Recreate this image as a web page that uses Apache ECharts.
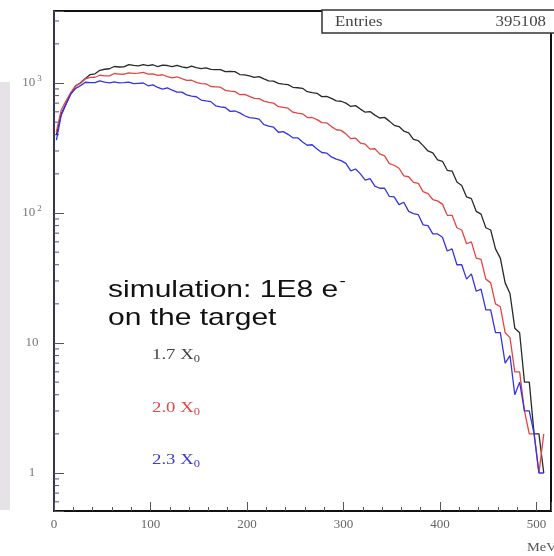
<!DOCTYPE html>
<html>
<head>
<meta charset="utf-8">
<script src="https://cdn.jsdelivr.net/npm/echarts@6/dist/echarts.min.js"></script>
<style>
html, body { margin: 0; padding: 0; background: #fff; }
#main { width: 554px; height: 556px; }
</style>
</head>
<body>
<div id="main"></div>
<script>
// bin lower edges (MeV), 5 MeV wide
var binWidth = 5;
var binEdges = [0,5,10,15,20,25,30,35,40,45,50,55,60,65,70,75,80,85,90,95,
  100,105,110,115,120,125,130,135,140,145,150,155,160,165,170,175,180,185,190,195,
  200,205,210,215,220,225,230,235,240,245,250,255,260,265,270,275,280,285,290,295,
  300,305,310,315,320,325,330,335,340,345,350,355,360,365,370,375,380,385,390,395,
  400,405,410,415,420,425,430,435,440,445,450,455,460,465,470,475,480,485,490,495,
  500,505];

// 1.7 X0
var counts17 = [400,579,693,834,949,1005,1085,1162,1176,1252,1276,1287,1340,1328,1330,1385,1364,1354,1384,1363,
  1382,1338,1375,1363,1337,1365,1331,1310,1346,1312,1289,1305,1274,1266,1269,1224,1226,1224,1162,1154,
  1134,1103,1120,1075,1040,1035,995,980,972,927,919,910,857,844,833,786,788,762,729,724,
  700,660,670,630,596,603,566,538,544,509,473,462,427,414,369,360,330,300,290,256,
  250,213,210,173,163,133,129,103,98,77,74,53,45,29,24,13,12,5,5,2,
  2,1];
// 2.0 X0
var counts20 = [422,622,729,846,954,995,1076,1103,1107,1147,1134,1133,1183,1170,1168,1198,1184,1192,1208,1170,
  1176,1144,1157,1119,1093,1117,1080,1049,1050,1010,990,985,940,935,928,877,866,858,813,818,
  790,761,759,726,710,700,657,649,640,596,586,579,542,543,523,496,494,462,437,432,
  406,373,376,345,338,310,312,285,275,240,233,221,193,190,172,169,146,141,127,124,
  117,96,96,77,74,58,60,45,44,31,29,20,19,12,11,6,6,3,2,2,
  1,2];
// 2.3 X0
var counts23 = [363,566,686,823,910,955,1013,1007,1005,1040,1016,1002,1020,1003,1005,1017,988,995,1000,952,
  967,924,896,917,880,850,850,810,792,784,739,728,719,668,656,648,605,609,589,560,
  541,536,528,478,466,457,418,423,403,379,379,352,332,335,311,292,289,270,260,253,
  241,211,218,200,179,184,161,155,155,134,133,116,121,103,99,97,81,80,69,69,
  65,51,53,40,40,31,34,25,26,18,18,12,12,7,8,4,5,3,3,2,
  1,1];

var seriesNames = ['1.7 X0', '2.0 X0', '2.3 X0'];
var xTicks = [0, 100, 200, 300, 400, 500];
var yTicks = [1, 10, 100, 1000];
var yTickLabels = ['1', '10', '{b|10}{s|2}', '{b|10}{s|3}'];
var yMinorTicks = [0.6,0.7,0.8,0.9,2,3,4,5,6,7,8,9,20,30,40,50,60,70,80,90,
  200,300,400,500,600,700,800,900,2000,3000];
var entries = 395108;

// points at bin centres
function hist(counts) {
  return binEdges.map(function (x, i) { return [x + binWidth / 2, counts[i]]; });
}

var chart = echarts.init(document.getElementById('main'), null, { renderer: 'canvas' });

var serif = '"Liberation Serif", "DejaVu Serif", serif';
var sans = '"Liberation Sans", Arial, sans-serif';
var colors = ['#2a2a2a', '#e64444', '#3434e6'];
var stretch = 1.25; // picture is a bit wider than tall

function histSeries(name, counts, color) {
  return {
    name: name,
    type: 'line',
    symbol: 'none',
    data: hist(counts),
    lineStyle: { color: color, width: 1.3 },
    animation: false,
    clip: true
  };
}

function label(y, txt, color) {
  return {
    type: 'text', x: 152, y: y, scaleX: stretch,
    style: {
      text: '{a|' + txt + '}{b|0}', textVerticalAlign: 'middle',
      rich: {
        a: { fontFamily: serif, fontSize: 15, fill: color },
        b: { fontFamily: serif, fontSize: 10, fill: color, padding: [9, 0, 0, 0] }
      }
    }
  };
}

var option = {
  animation: false,
  grid: {
    left: 54, right: 2, top: 11, bottom: 45,
    show: true, borderColor: '#111', borderWidth: 2
  },
  xAxis: {
    type: 'value',
    min: 0, max: 515,
    interval: 100,
    axisLine: { show: true, lineStyle: { color: '#111', width: 2 } },
    axisTick: { show: true, inside: true, length: 9, lineStyle: { color: '#555' } },
    minorTick: { show: true, splitNumber: 5, length: 4, lineStyle: { color: '#555' } },
    splitLine: { show: false },
    axisLabel: {
      margin: 7,
      color: '#666',
      fontFamily: serif,
      fontSize: 13,
      formatter: function (v) { return xTicks.indexOf(v) >= 0 ? String(v) : ''; }
    }
  },
  yAxis: {
    type: 'log',
    logBase: 10,
    min: 0.51, max: 3580,
    axisLine: { show: true, lineStyle: { color: '#35355c', width: 2 } },
    axisTick: { show: true, inside: true, length: 10, lineStyle: { color: '#555' } },
    splitLine: { show: false },
    axisLabel: {
      margin: 22,
      align: 'center',
      color: '#777',
      fontFamily: serif,
      fontSize: 13,
      formatter: function (v) {
        for (var i = 0; i < yTicks.length; i++) {
          if (Math.abs(v - yTicks[i]) < yTicks[i] * 1e-6) return yTickLabels[i];
        }
        return '';
      },
      rich: {
        b: { fontFamily: serif, fontSize: 13, color: '#777' },
        s: { fontFamily: serif, fontSize: 9, color: '#777', padding: [0, 0, 9, 2] }
      }
    }
  },
  series: [
    histSeries(seriesNames[0], counts17, colors[0]),
    histSeries(seriesNames[1], counts20, colors[1]),
    histSeries(seriesNames[2], counts23, colors[2]),
    {
      type: 'custom',
      silent: true,
      animation: false,
      data: yMinorTicks.map(function (v) { return [0, v]; }),
      renderItem: function (params, api) {
        var p = api.coord([0, api.value(1)]);
        return {
          type: 'line',
          shape: { x1: p[0], y1: p[1], x2: p[0] + 5, y2: p[1] },
          style: { stroke: '#555', lineWidth: 1 }
        };
      }
    }
  ],
  graphic: [
    { type: 'rect', left: 0, top: 82, shape: { width: 10, height: 428 }, style: { fill: '#e6e2e8' } },
    { type: 'rect', x: 322, y: 10, shape: { width: 240, height: 23 }, style: { fill: '#fff', stroke: '#333', lineWidth: 1.5 } },
    { type: 'text', x: 335, y: 22, scaleX: 1.2, style: { text: 'Entries', font: '14px ' + serif, fill: '#444', textVerticalAlign: 'middle' } },
    { type: 'text', x: 546, y: 22, scaleX: 1.2, style: { text: String(entries), font: '14px ' + serif, fill: '#444', textAlign: 'right', textVerticalAlign: 'middle' } },
    {
      type: 'text', x: 108, y: 290, scaleX: stretch,
      style: {
        text: '{a|simulation: 1E8 e}{s|-}', textVerticalAlign: 'middle',
        rich: {
          a: { fontFamily: sans, fontSize: 24, fill: '#111' },
          s: { fontFamily: sans, fontSize: 15, fill: '#111', padding: [0, 0, 16, 1] }
        }
      }
    },
    { type: 'text', x: 108, y: 318, scaleX: stretch, style: { text: 'on the target', font: '24px ' + sans, fill: '#111', textVerticalAlign: 'middle' } },
    label(355, '1.7 X', '#444'),
    label(408, '2.0 X', '#e24848'),
    label(460, '2.3 X', '#3c3cd8'),
    { type: 'text', x: 527, y: 548, scaleX: 1.2, style: { text: 'MeV', font: '12px ' + serif, fill: '#555', textVerticalAlign: 'middle' } }
  ]
};

chart.setOption(option);
</script>
</body>
</html>
